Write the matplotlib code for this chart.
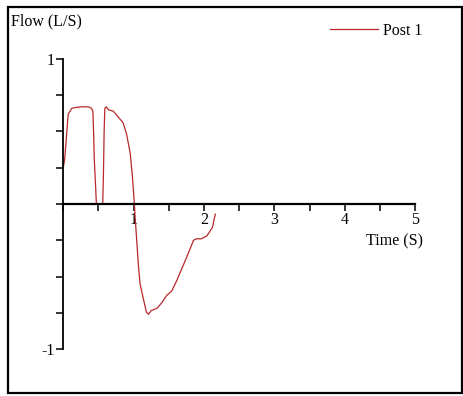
import matplotlib
matplotlib.use("Agg")
import matplotlib.pyplot as plt
from matplotlib.patches import Rectangle
from matplotlib.ticker import MultipleLocator, FixedLocator

plt.rcParams['font.family'] = ['Liberation Serif', 'DejaVu Serif']

# Flow trace (seconds, litres per second)
time_s = [0.00, 0.02, 0.05, 0.07, 0.12, 0.17, 0.26, 0.36, 0.40, 0.42, 0.43,
          0.44, 0.46, 0.47, 0.52, 0.56, 0.57, 0.58, 0.59, 0.61, 0.64, 0.71,
          0.78, 0.85, 0.90, 0.95, 0.98, 1.01, 1.02, 1.04, 1.065, 1.09, 1.14,
          1.18, 1.21, 1.25, 1.33, 1.40, 1.47, 1.54, 1.61, 1.68, 1.75, 1.80,
          1.85, 1.89, 1.96, 2.04, 2.08, 2.12, 2.14, 2.16]
flow_ls = [0.25, 0.31, 0.50, 0.62, 0.66, 0.665, 0.67, 0.67, 0.66, 0.64, 0.50,
           0.31, 0.11, 0.00, 0.00, 0.00, 0.20, 0.50, 0.66, 0.67, 0.65, 0.64,
           0.60, 0.56, 0.48, 0.35, 0.20, 0.00, -0.09, -0.23, -0.41, -0.55, -0.66,
           -0.745, -0.76, -0.735, -0.72, -0.68, -0.63, -0.60, -0.53, -0.45, -0.37, -0.31,
           -0.25, -0.24, -0.24, -0.22, -0.19, -0.16, -0.11, -0.07]

series_name = "Post 1"
x_ticks = [1, 2, 3, 4, 5]
y_ticks = [-1, 1]

fs = 11.5

fig = plt.figure(figsize=(4.64, 3.96), dpi=100)
fig.patch.set_facecolor('white')

ax = fig.add_axes([63.3 / 464, 47 / 396, 352 / 464, 290 / 396])
line, = ax.plot(time_s, flow_ls, color='#b8282c', lw=0.9, label=series_name)

ax.set_xlim(0, 5)
ax.set_ylim(-1, 1)
ax.spines['top'].set_visible(False)
ax.spines['right'].set_visible(False)
ax.spines['bottom'].set_position(('data', 0))
ax.spines['left'].set_linewidth(1.3)
ax.spines['bottom'].set_linewidth(1.6)

ax.xaxis.set_major_locator(FixedLocator(x_ticks))
ax.xaxis.set_minor_locator(MultipleLocator(0.5))
ax.yaxis.set_major_locator(FixedLocator(y_ticks))
ax.yaxis.set_minor_locator(MultipleLocator(0.25))
ax.set_xticklabels([str(v) for v in x_ticks])
ax.set_yticklabels([str(v) for v in y_ticks])
ax.tick_params(axis='both', which='both', direction='out', length=5, width=1.1,
               labelsize=fs, pad=1)

fig.text(395 / 464, 1 - 241 / 396, "Time (S)", ha='center', va='center', fontsize=fs)
fig.text(11 / 464, 1 - 21 / 396, "Flow (L/S)", ha='left', va='center', fontsize=fs)

fig.legend(handles=[line], loc='center left', bbox_to_anchor=(330 / 464, 1 - 31 / 396),
           frameon=False, fontsize=fs, handlelength=3.0, handletextpad=0.3,
           borderpad=0, borderaxespad=0)

fig.add_artist(Rectangle((8 / 464, 3 / 396), 454 / 464, 386 / 396,
                         transform=fig.transFigure, fill=False,
                         edgecolor='black', lw=1.6))

fig.savefig("out.png", dpi=100)
